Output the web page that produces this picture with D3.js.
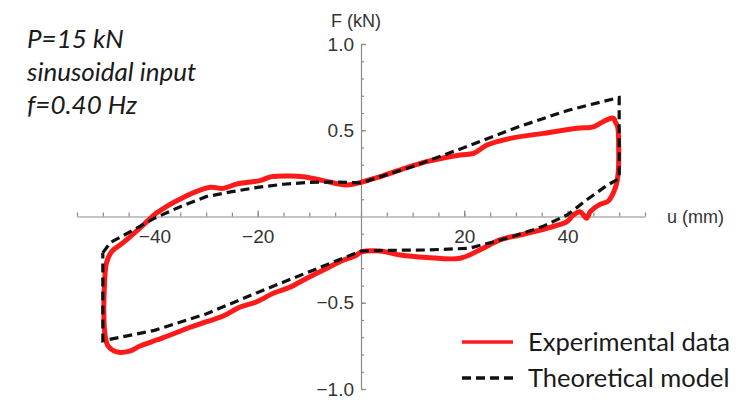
<!DOCTYPE html>
<html><head><meta charset="utf-8">
<script src="https://cdn.jsdelivr.net/npm/d3@7"></script>
<style>
html,body{margin:0;padding:0;background:#fff;}
svg{display:block;}
</style></head>
<body>
<svg id="chart" width="743" height="402"></svg>
<script>
// ---- data ----
const xMinorTicks = d3.range(-55, 55.1, 5);
const xMajorTicks = [-40, -20, 20, 40];
const xTickLabels = ["\u221240", "\u221220", "20", "40"];
const yMinorTicks = d3.range(-10, 10.1, 1).map(v => v / 10);
const yMajorTicks = [-1.0, -0.5, 0.5, 1.0];
const yTickLabels = ["\u22121.0", "\u22120.5", "0.5", "1.0"];

// Experimental data loop (u in mm, F in kN), traced from top-right clockwise
const expU = [49.2, 49.7, 49.9, 49.8, 49.3, 47.9, 46.3, 44.4, 43.7, 42.4, 41.0, 39.9, 36.0, 30.8, 26.9, 23.0, 19.2, 12.7, 7.6, 3.7, 0.0,
  -0.8, -4.1, -7.3, -10.5, -13.8, -17.0, -20.2, -23.4, -26.7, -29.9, -33.1, -36.4, -39.6, -42.8, -44.8, -47.3, -49.0, -49.6, -49.8, -49.7, -49.3, -48.3,
  -46.0, -42.2, -39.6, -34.8, -29.2, -26.7, -24.1, -19.6, -17.3, -13.8, -11.2, -7.3, -2.8, 0.0, 3.7, 7.6, 12.7, 19.2, 21.8, 24.4, 28.9, 35.3, 41.8, 45.0, 46.3, 47.6, 48.9, 49.2];
const expF = [0.55, 0.52, 0.40, 0.25, 0.17, 0.09, 0.07, 0.028, -0.01, 0.028, 0.005, -0.03, -0.068, -0.107, -0.136, -0.194, -0.242, -0.237, -0.223, -0.20, -0.206,
  -0.223, -0.262, -0.31, -0.358, -0.41, -0.445, -0.494, -0.525, -0.577, -0.61, -0.642, -0.681, -0.716, -0.751, -0.78, -0.785, -0.75, -0.68, -0.56, -0.41, -0.27, -0.204,
  -0.15, -0.05, 0.02, 0.105, 0.169, 0.163, 0.188, 0.208, 0.231, 0.235, 0.231, 0.208, 0.183, 0.198, 0.231, 0.27, 0.318, 0.357, 0.366, 0.414, 0.453, 0.482, 0.511, 0.52, 0.54, 0.56, 0.57, 0.55];

// Theoretical model loop
const modelU = [-50, -48.5, -46, -43, -40, -35, -30, -25, -20, -15, -10, -5, 0, 10, 20, 30, 40, 50,
  50, 47.6, 43.7, 40, 35, 30, 27, 21, 13, 6, 0, -10, -20, -30, -40, -50, -50];
const modelF = [-0.21, -0.15, -0.11, -0.06, -0.01, 0.057, 0.115, 0.144, 0.169, 0.187, 0.198, 0.20, 0.195, 0.29, 0.40, 0.515, 0.615, 0.69,
  0.22, 0.18, 0.096, 0.01, -0.06, -0.11, -0.136, -0.184, -0.194, -0.196, -0.20, -0.32, -0.44, -0.565, -0.66, -0.72, -0.21];

const annotationLines = ["P=15 kN", "sinusoidal input", "f=0.40 Hz"];
const legendLabels = ["Experimental data", "Theoretical model"];

// ---- drawing ----
const svg = d3.select("#chart");
const x = d3.scaleLinear().domain([-55, 55]).range([77, 645]);
const y = d3.scaleLinear().domain([-1, 1]).range([389, 44]);
const axisColor = "#8a8a8a";
const labelColor = "#333";
const axisFont = "'Liberation Sans', Arial, sans-serif";

// X axis (ticks pointing up, labels below)
const gx = svg.append("g").attr("transform", `translate(0,${y(0)})`);
gx.call(d3.axisTop(x).tickValues(xMinorTicks).tickSize(4).tickSizeOuter(0).tickFormat(""));
const gxMaj = svg.append("g").attr("transform", `translate(0,${y(0)})`);
gxMaj.call(d3.axisTop(x).tickValues(xMajorTicks).tickSize(6).tickSizeOuter(0)
  .tickFormat((d, i) => xTickLabels[i]));
gxMaj.select(".domain").remove();
gxMaj.selectAll("text").attr("y", 13).attr("dy", "0.71em");

// Y axis (ticks pointing right, labels left)
const gy = svg.append("g").attr("transform", `translate(${x(0)},0)`);
gy.call(d3.axisRight(y).tickValues(yMinorTicks.filter(v => v !== 0)).tickSize(3).tickSizeOuter(0).tickFormat(""));
const gyMaj = svg.append("g").attr("transform", `translate(${x(0)},0)`);
gyMaj.call(d3.axisRight(y).tickValues(yMajorTicks).tickSize(5).tickSizeOuter(0)
  .tickFormat((d, i) => yTickLabels[i]));
gyMaj.select(".domain").remove();
gyMaj.selectAll("text").attr("x", -7).attr("text-anchor", "end");

[gx, gxMaj, gy, gyMaj].forEach(g => {
  g.selectAll("path,line").attr("stroke", axisColor).attr("stroke-width", 1.2);
  g.selectAll("text").attr("fill", labelColor).style("font-family", axisFont).style("font-size", "19px");
});

// Axis titles
svg.append("text").attr("x", x(0) - 30).attr("y", 27).text("F (kN)")
  .attr("fill", labelColor).style("font-family", axisFont).style("font-size", "18px");
svg.append("text").attr("x", 667).attr("y", 223).text("u (mm)")
  .attr("fill", labelColor).style("font-family", axisFont).style("font-size", "18px");

// Experimental loop
const expData = expU.map((u, i) => [u, expF[i]]);
const line = d3.line().x(d => x(d[0])).y(d => y(d[1])).curve(d3.curveCatmullRomClosed.alpha(0.5));
svg.append("path").datum(expData).attr("d", line)
  .attr("fill", "none").attr("stroke", "#ff1a1a").attr("stroke-width", 5)
  .attr("stroke-linejoin", "round");

// Theoretical model
const modelData = modelU.map((u, i) => [u, modelF[i]]);
const lineLin = d3.line().x(d => x(d[0])).y(d => y(d[1]));
svg.append("path").datum(modelData).attr("d", lineLin)
  .attr("fill", "none").attr("stroke", "#111").attr("stroke-width", 3.2)
  .attr("stroke-dasharray", "9,5");

// Annotation
const annFont = "Lato, 'Open Sans', sans-serif";
svg.append("g").selectAll("text").data(annotationLines).join("text")
  .attr("x", 27).attr("y", (d, i) => 48 + i * 33)
  .text(d => d).attr("fill", "#1a1a1a")
  .style("font-family", annFont).style("font-style", "italic").style("font-size", "26px");

// Legend
const lg = svg.append("g");
lg.append("line").attr("x1", 462).attr("x2", 513).attr("y1", 342).attr("y2", 342)
  .attr("stroke", "#ff1a1a").attr("stroke-width", 3.5);
lg.append("line").attr("x1", 462).attr("x2", 513).attr("y1", 378).attr("y2", 378)
  .attr("stroke", "#111").attr("stroke-width", 3.5).attr("stroke-dasharray", "9,5");
lg.selectAll("text").data(legendLabels).join("text")
  .attr("x", 528).attr("y", (d, i) => 342 + i * 36).attr("dy", "0.35em")
  .text(d => d).attr("fill", "#1a1a1a")
  .style("font-family", annFont).style("font-size", "25.5px");
</script>
</body></html>
